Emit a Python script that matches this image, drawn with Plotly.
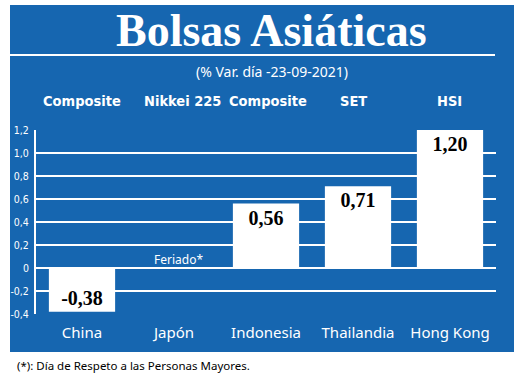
import plotly.graph_objects as go

countries = ["China", "Japón", "Indonesia", "Thailandia", "Hong Kong"]
indices = ["Composite", "Nikkei 225", "Composite", "SET", "HSI"]
values = [-0.38, None, 0.56, 0.71, 1.20]
value_labels = ["-0,38", "", "0,56", "0,71", "1,20"]
tick_vals = [-0.4, -0.2, 0, 0.2, 0.4, 0.6, 0.8, 1.0, 1.2]
tick_text = ["-0,4", "-0,2", "0", "0,2", "0,4", "0,6", "0,8", "1,0", "1,2"]
title = "Bolsas Asiáticas"
subtitle = "(% Var. día -23-09-2021)"
note_label = "Feriado*"
footnote = "(*): Día de Respeto a las Personas Mayores."

BLUE = "#1666B0"
COND = "DejaVu Sans Condensed, Liberation Sans Narrow, sans-serif"

fig = go.Figure()
fig.add_trace(go.Bar(
    x=countries, y=values, text=value_labels,
    marker=dict(color="white", line=dict(width=0)),
    textposition="inside", insidetextanchor="end", textangle=0,
    constraintext="none",
    insidetextfont=dict(family="Liberation Serif, DejaVu Serif, serif", size=20, color="black", weight="bold"),
    hoverinfo="skip",
))

L, R, T, B = 36, 24, 130, 63
W, H = 520 - L - R, 377 - T - B

def px(x):
    return (x - L) / W

def py(y):
    return (377 - B - y) / H

shapes = [
    dict(type="rect", xref="paper", yref="paper", x0=px(10), x1=px(514), y0=py(352), y1=py(5),
         fillcolor=BLUE, line=dict(width=0), layer="below"),
    dict(type="line", xref="paper", yref="paper", x0=px(10), x1=px(495), y0=py(55), y1=py(55),
         line=dict(color="white", width=2)),
]

annotations = [
    dict(text=title, xref="paper", yref="paper", x=px(271), y=py(31), showarrow=False,
         font=dict(family="Liberation Serif, DejaVu Serif, serif", size=46, color="white", weight="bold"),
         xanchor="center", yanchor="middle"),
    dict(text=subtitle, xref="paper", yref="paper", x=px(272), y=py(72), showarrow=False,
         font=dict(family="Noto Sans, Open Sans, sans-serif", size=14, color="white"),
         xanchor="center", yanchor="middle"),
    dict(text=footnote, xref="paper", yref="paper", x=px(15), y=py(365), showarrow=False,
         font=dict(family="Noto Sans, Open Sans, sans-serif", size=11.5, color="black"),
         xanchor="left", yanchor="middle"),
    dict(text=note_label, x="Japón", y=0.07, xref="x", yref="y", showarrow=False, xshift=4,
         font=dict(family="Noto Sans, Open Sans, sans-serif", size=12, color="white"),
         xanchor="center", yanchor="middle"),
]
header_shift = [0, 8, 2, -5, -1]
for c, lab, s in zip(countries, indices, header_shift):
    annotations.append(dict(text=lab, x=c, xref="x", yref="paper", y=py(101), xshift=s,
                            showarrow=False, xanchor="center", yanchor="middle",
                            font=dict(family=COND, size=14.5, color="white", weight="bold")))

fig.update_layout(
    width=520, height=377,
    margin=dict(l=L, r=R, t=T, b=B, pad=0, autoexpand=False),
    paper_bgcolor="white", plot_bgcolor="rgba(0,0,0,0)",
    bargap=0.28, showlegend=False,
    shapes=shapes, annotations=annotations,
    xaxis=dict(showgrid=False, showline=False, ticks="", zeroline=False, automargin=False,
               ticklabelstandoff=8,
               tickfont=dict(family="Noto Sans, Open Sans, sans-serif", size=15, color="white"),
               fixedrange=True),
    yaxis=dict(range=[-0.4, 1.2], tickvals=tick_vals, ticktext=tick_text, automargin=False,
               showgrid=True, gridcolor="white", gridwidth=2,
               zeroline=True, zerolinecolor="white", zerolinewidth=2,
               showline=True, linecolor="white", linewidth=2, ticks="",
               ticklabelstandoff=3,
               tickfont=dict(family=COND, size=10.5, color="white"), fixedrange=True),
)

fig.write_html("out.html", config={"displayModeBar": False},
               post_script="document.body.style.margin='0';document.body.style.overflow='hidden';")
